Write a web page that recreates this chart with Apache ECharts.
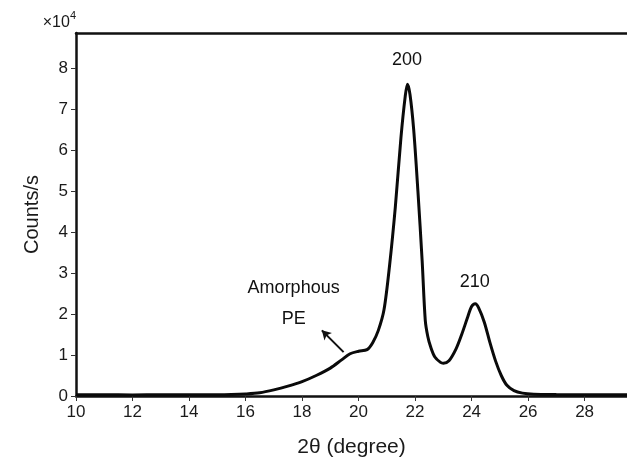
<!DOCTYPE html>
<html>
<head>
<meta charset="utf-8">
<script src="https://cdn.jsdelivr.net/npm/echarts@6/dist/echarts.min.js"></script>
<style>html,body{margin:0;padding:0;background:#fff}#c{width:627px;height:464px}</style>
</head>
<body>
<div id="c"></div>
<script>
// 2theta (degree)
const twoTheta = [10, 11, 12, 13, 14, 15, 15.5, 16, 16.5, 17, 17.5, 18, 18.5, 19, 19.4, 19.7, 20.0, 20.3, 20.5, 20.7, 20.9, 21.1, 21.3, 21.5, 21.65, 21.73, 21.82, 21.95, 22.1, 22.25, 22.36, 22.45, 22.55, 22.7, 22.9, 23.0, 23.2, 23.45, 23.65, 23.85, 24.0, 24.13, 24.25, 24.45, 24.65, 24.85, 25.05, 25.25, 25.5, 25.8, 26.2, 27, 28, 29, 29.6];
// Counts/s
const counts = [300, 300, 250, 300, 300, 300, 350, 500, 800, 1500, 2400, 3500, 5000, 6800, 8800, 10300, 10900, 11300, 13000, 16000, 21000, 32000, 46000, 63000, 73000, 76000, 73500, 65000, 50000, 33000, 18500, 14500, 12000, 9500, 8200, 8000, 8600, 11500, 15000, 19000, 21800, 22500, 21500, 18000, 13000, 8500, 5000, 2600, 1300, 700, 450, 350, 300, 300, 300];
const xTicks = [10, 12, 14, 16, 18, 20, 22, 24, 26, 28];
const yTicks = [0, 10000, 20000, 30000, 40000, 50000, 60000, 70000, 80000];
const labels = [
  { text: '200', x: 21.73, y: 81800 },
  { text: '210', x: 24.13, y: 27600 },
  { text: 'Amorphous', x: 17.72, y: 26300 },
  { text: 'PE', x: 17.72, y: 18600 }
];
const arrowFrom = [19.47, 10700];
const arrowTo = [18.70, 16000];

const chart = echarts.init(document.getElementById('c'));
const font = 'Liberation Sans, Arial, sans-serif';
chart.setOption({
  animation: false,
  backgroundColor: '#fff',
  grid: { left: 76, top: 33, right: 0, bottom: 68 },
  xAxis: [{
    type: 'value', min: 10, max: 29.5,
    name: '2θ (degree)', nameLocation: 'middle', nameGap: 41,
    nameTextStyle: { fontFamily: font, fontSize: 21, color: '#1a1a1a' },
    axisLine: { lineStyle: { color: '#111', width: 2.5 } },
    axisTick: { inside: false, length: 5, customValues: xTicks, lineStyle: { color: '#333', width: 1 } },
    axisLabel: { fontFamily: font, fontSize: 17, color: '#1a1a1a', margin: 8, customValues: xTicks },
    splitLine: { show: false }
  }, {
    type: 'value', position: 'top', min: 10, max: 29.5,
    axisLine: { show: true, onZero: false, lineStyle: { color: '#111', width: 2.5 } },
    axisTick: { show: false }, axisLabel: { show: false }, splitLine: { show: false }
  }],
  yAxis: [{
    type: 'value', min: 0, max: 88500,
    name: '{a|×10}{b|4}', nameLocation: 'end', nameGap: 2,
    nameTextStyle: { align: 'right',
      rich: {
        a: { fontFamily: font, fontSize: 16, color: '#1a1a1a', padding: [5, 0, 0, 0] },
        b: { fontFamily: font, fontSize: 11, color: '#1a1a1a', verticalAlign: 'top', padding: [0, 0, 8, 0] }
      } },
    axisLine: { show: true, lineStyle: { color: '#111', width: 2.5 } },
    axisTick: { inside: false, length: 5, customValues: yTicks, lineStyle: { color: '#333', width: 1 } },
    axisLabel: { fontFamily: font, fontSize: 17, color: '#1a1a1a', margin: 8, customValues: yTicks,
      formatter: v => String(v / 10000) },
    splitLine: { show: false }
  }, {
    type: 'value', position: 'left', min: 0, max: 88500,
    name: 'Counts/s', nameLocation: 'middle', nameGap: 34,
    nameTextStyle: { fontFamily: font, fontSize: 20, color: '#1a1a1a' },
    axisLine: { show: false }, axisTick: { show: false }, axisLabel: { show: false }, splitLine: { show: false }
  }],
  series: [{
    type: 'line',
    data: twoTheta.map((x, i) => [x, counts[i]]),
    smooth: 0.3,
    showSymbol: false,
    lineStyle: { color: '#0a0a0a', width: 3 },
    markLine: {
      silent: true, symbol: ['none', 'arrow'], symbolSize: [8, 9],
      lineStyle: { color: '#111', width: 2, type: 'solid' },
      label: { show: false },
      data: [[{ coord: arrowFrom }, { coord: arrowTo }]]
    }
  }, {
    type: 'scatter',
    symbolSize: 1,
    silent: true,
    itemStyle: { color: 'rgba(0,0,0,0)' },
    data: labels.map(l => ({
      value: [l.x, l.y],
      label: { show: true, position: [0, 0], align: 'center', verticalAlign: 'middle',
        formatter: l.text, fontFamily: font, fontSize: 18, color: '#111', opacity: 1 }
    }))
  }]
});
</script>
</body>
</html>
